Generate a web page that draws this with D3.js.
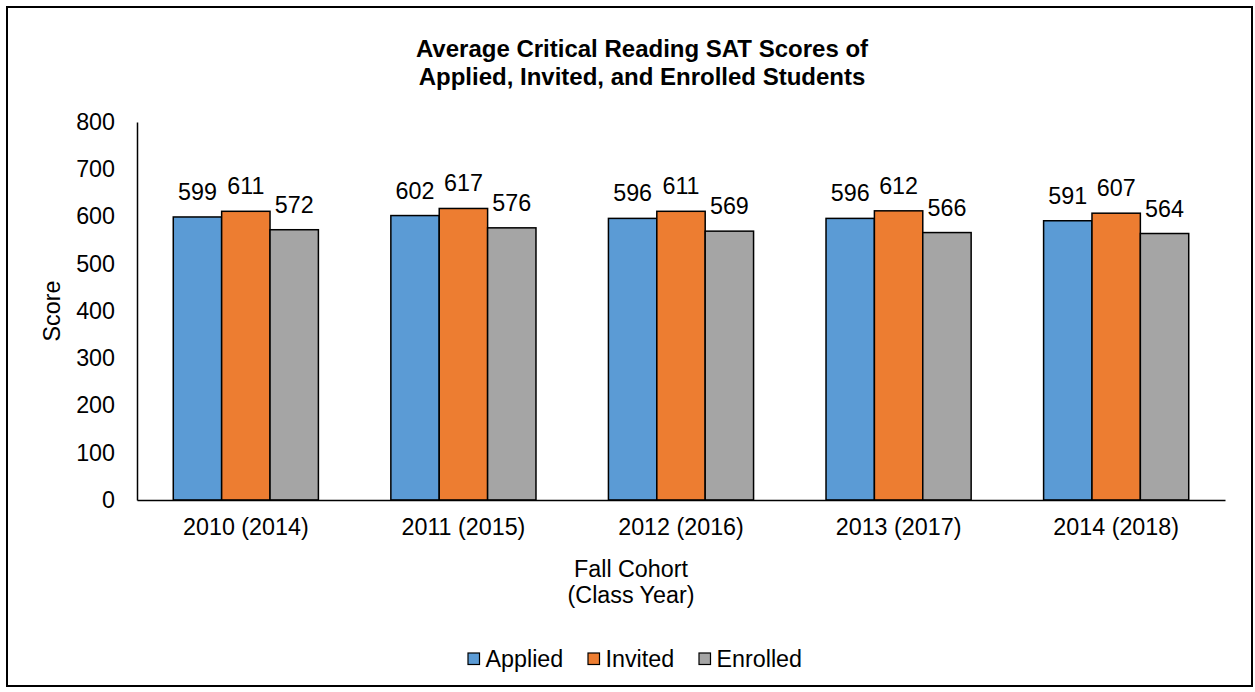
<!DOCTYPE html>
<html lang="en">
<head>
<meta charset="utf-8">
<title>Average Critical Reading SAT Scores</title>
<script src="https://d3js.org/d3.v7.min.js"></script>
<style>
  body { margin: 0; background: #fff; }
  text { font-family: "Liberation Sans", Arial, sans-serif; fill: #000; }
</style>
</head>
<body>
<div id="chart"></div>
<script>
// data
var cohorts = ["2010 (2014)", "2011 (2015)", "2012 (2016)", "2013 (2017)", "2014 (2018)"];
var seriesNames = ["Applied", "Invited", "Enrolled"];
var applied = [599, 602, 596, 596, 591];
var invited = [611, 617, 611, 612, 607];
var enrolled = [572, 576, 569, 566, 564];
var yTicks = [0, 100, 200, 300, 400, 500, 600, 700, 800];

var colors = { Applied: "#5B9BD5", Invited: "#ED7D31", Enrolled: "#A5A5A5" };
var seriesValues = { Applied: applied, Invited: invited, Enrolled: enrolled };

var W = 1255, H = 692;
var fs = 23.3;

var svg = d3.select("#chart").append("svg")
  .attr("width", W)
  .attr("height", H);

// outer border
svg.append("rect")
  .attr("x", 7).attr("y", 7)
  .attr("width", 1245).attr("height", 679)
  .attr("fill", "#fff")
  .attr("stroke", "#000")
  .attr("stroke-width", 2);

var x0 = d3.scaleBand()
  .domain(cohorts)
  .range([137, 1225])
  .paddingInner(0.333)
  .paddingOuter(0.1667);

var x1 = d3.scaleBand()
  .domain(seriesNames)
  .range([0, x0.bandwidth()]);

var y = d3.scaleLinear()
  .domain([0, 800])
  .range([500, 122]);

// title
var title = svg.append("text")
  .attr("text-anchor", "middle")
  .style("font-size", "24px")
  .style("font-weight", "bold");
title.append("tspan").attr("x", 642).attr("y", 57).text("Average Critical Reading SAT Scores of");
title.append("tspan").attr("x", 642).attr("y", 85).text("Applied, Invited, and Enrolled Students");

// bars
var groups = svg.selectAll("g.cohort")
  .data(cohorts)
  .enter().append("g")
  .attr("class", "cohort")
  .attr("transform", function(d) { return "translate(" + x0(d) + ",0)"; });

groups.selectAll("rect")
  .data(function(d, i) {
    return seriesNames.map(function(s) { return { key: s, value: seriesValues[s][i] }; });
  })
  .enter().append("rect")
  .attr("x", function(d) { return x1(d.key); })
  .attr("y", function(d) { return y(d.value); })
  .attr("width", x1.bandwidth())
  .attr("height", function(d) { return y(0) - y(d.value); })
  .attr("fill", function(d) { return colors[d.key]; })
  .attr("stroke", "#000")
  .attr("stroke-width", 1.5);

groups.selectAll("text.lbl")
  .data(function(d, i) {
    return seriesNames.map(function(s) { return { key: s, value: seriesValues[s][i] }; });
  })
  .enter().append("text")
  .attr("class", "lbl")
  .attr("x", function(d) { return x1(d.key) + x1.bandwidth() / 2; })
  .attr("y", function(d) { return y(d.value) - 17; })
  .attr("text-anchor", "middle")
  .style("font-size", fs + "px")
  .text(function(d) { return d.value; });

// axes
var yAxis = svg.append("g")
  .attr("transform", "translate(137,0)")
  .call(d3.axisLeft(y).tickValues(yTicks).tickSize(0).tickPadding(22));
yAxis.selectAll("text").style("font-size", fs + "px").style("font-family", "Liberation Sans, Arial, sans-serif");
yAxis.select(".domain").attr("stroke", "#000").attr("stroke-width", 1.5);

var xAxis = svg.append("g")
  .attr("transform", "translate(0,500)")
  .call(d3.axisBottom(x0).tickSize(0).tickSizeOuter(0).tickPadding(18.5));
xAxis.selectAll("text").style("font-size", fs + "px").style("font-family", "Liberation Sans, Arial, sans-serif");
xAxis.select(".domain").attr("stroke", "#000").attr("stroke-width", 1.5);

// axis titles
svg.append("text")
  .attr("transform", "translate(60,311) rotate(-90)")
  .attr("text-anchor", "middle")
  .style("font-size", fs + "px")
  .text("Score");

var xt = svg.append("text")
  .attr("text-anchor", "middle")
  .style("font-size", fs + "px");
xt.append("tspan").attr("x", 631).attr("y", 577).text("Fall Cohort");
xt.append("tspan").attr("x", 631).attr("y", 603).text("(Class Year)");

// legend
var legendX = [468, 588, 699];
var legend = svg.selectAll("g.legend")
  .data(seriesNames)
  .enter().append("g")
  .attr("class", "legend")
  .attr("transform", function(d, i) { return "translate(" + legendX[i] + ",653)"; });

legend.append("rect")
  .attr("width", 11.5).attr("height", 11.5)
  .attr("fill", function(d) { return colors[d]; })
  .attr("stroke", "#000")
  .attr("stroke-width", 1.2);

legend.append("text")
  .attr("x", 17.5)
  .attr("y", 13.7)
  .style("font-size", fs + "px")
  .text(function(d) { return d; });
</script>
</body>
</html>
